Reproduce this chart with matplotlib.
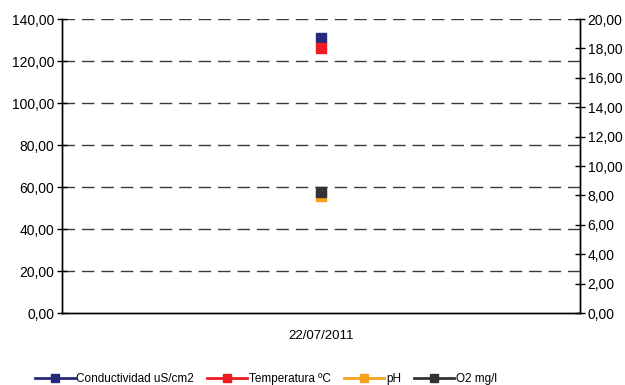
import matplotlib
matplotlib.use("Agg")
import matplotlib.pyplot as plt
from matplotlib.ticker import FuncFormatter
from matplotlib.lines import Line2D

plt.rcParams['font.family'] = ['Liberation Sans', 'DejaVu Sans']

# Data
dates = ["22/07/2011"]
conductividad = [131.0]      # left axis
temperatura = [18.0]         # right axis
ph = [7.95]                  # right axis
o2 = [8.25]                  # right axis

series_names = ["Conductividad uS/cm2", "Temperatura ºC", "pH", "O2 mg/l"]
colors = ["#262A78", "#EE1D24", "#F7A01C", "#333333"]

left_ticks = [0, 20, 40, 60, 80, 100, 120, 140]
right_ticks = [0, 2, 4, 6, 8, 10, 12, 14, 16, 18, 20]

fmt = FuncFormatter(lambda v, p: f"{v:.2f}".replace(".", ","))

fig = plt.figure(figsize=(6.25, 3.85), dpi=100)
ax = fig.add_axes([0.0992, 0.187, 0.8288, 0.7636])
ax2 = ax.twinx()

x = list(range(len(dates)))
ax.set_xlim(-0.5, len(dates) - 0.5)
ax.set_ylim(0, 140)
ax2.set_ylim(0, 20)

# Dashed horizontal gridlines
for v in left_ticks[1:]:
    ax.axhline(v, color="#3a3a3a", lw=1.0, dashes=(9, 5), zorder=1)

ms = 7
ax.plot(x, conductividad, marker="s", ms=ms, color=colors[0], lw=2, ls="none", zorder=3)
ax2.plot(x, temperatura, marker="s", ms=ms, color=colors[1], lw=2, ls="none", zorder=3)
ax2.plot(x, ph, marker="s", ms=ms, color=colors[2], lw=2, ls="none", zorder=3)
ax2.plot(x, o2, marker="s", ms=ms, color=colors[3], lw=2, ls="none", zorder=4)

ax.set_yticks(left_ticks)
ax.yaxis.set_major_formatter(fmt)
ax2.set_yticks(right_ticks)
ax2.yaxis.set_major_formatter(fmt)

ax.set_xticks(x)
ax.set_xticklabels(dates)
ax.tick_params(axis="x", which="major", length=0, pad=12, labelsize=9.5)

ax.tick_params(axis="y", direction="inout", length=7, width=1, labelsize=10, pad=2)
ax2.tick_params(axis="y", direction="inout", length=7, width=1, labelsize=10, pad=2)

for a in (ax, ax2):
    a.spines["top"].set_visible(False)
    for s in ("left", "right", "bottom"):
        a.spines[s].set_color("black")
        a.spines[s].set_linewidth(1)

handles = [Line2D([0], [0], color=c, lw=2, marker="s", ms=6) for c in colors]
fig.legend(handles, series_names, loc="center", bbox_to_anchor=(0.425, 0.016),
           ncol=4, frameon=False, fontsize=8.5, handlelength=3.4,
           handletextpad=0.15, columnspacing=1.1, borderaxespad=0)

fig.savefig("out.png", dpi=100)
